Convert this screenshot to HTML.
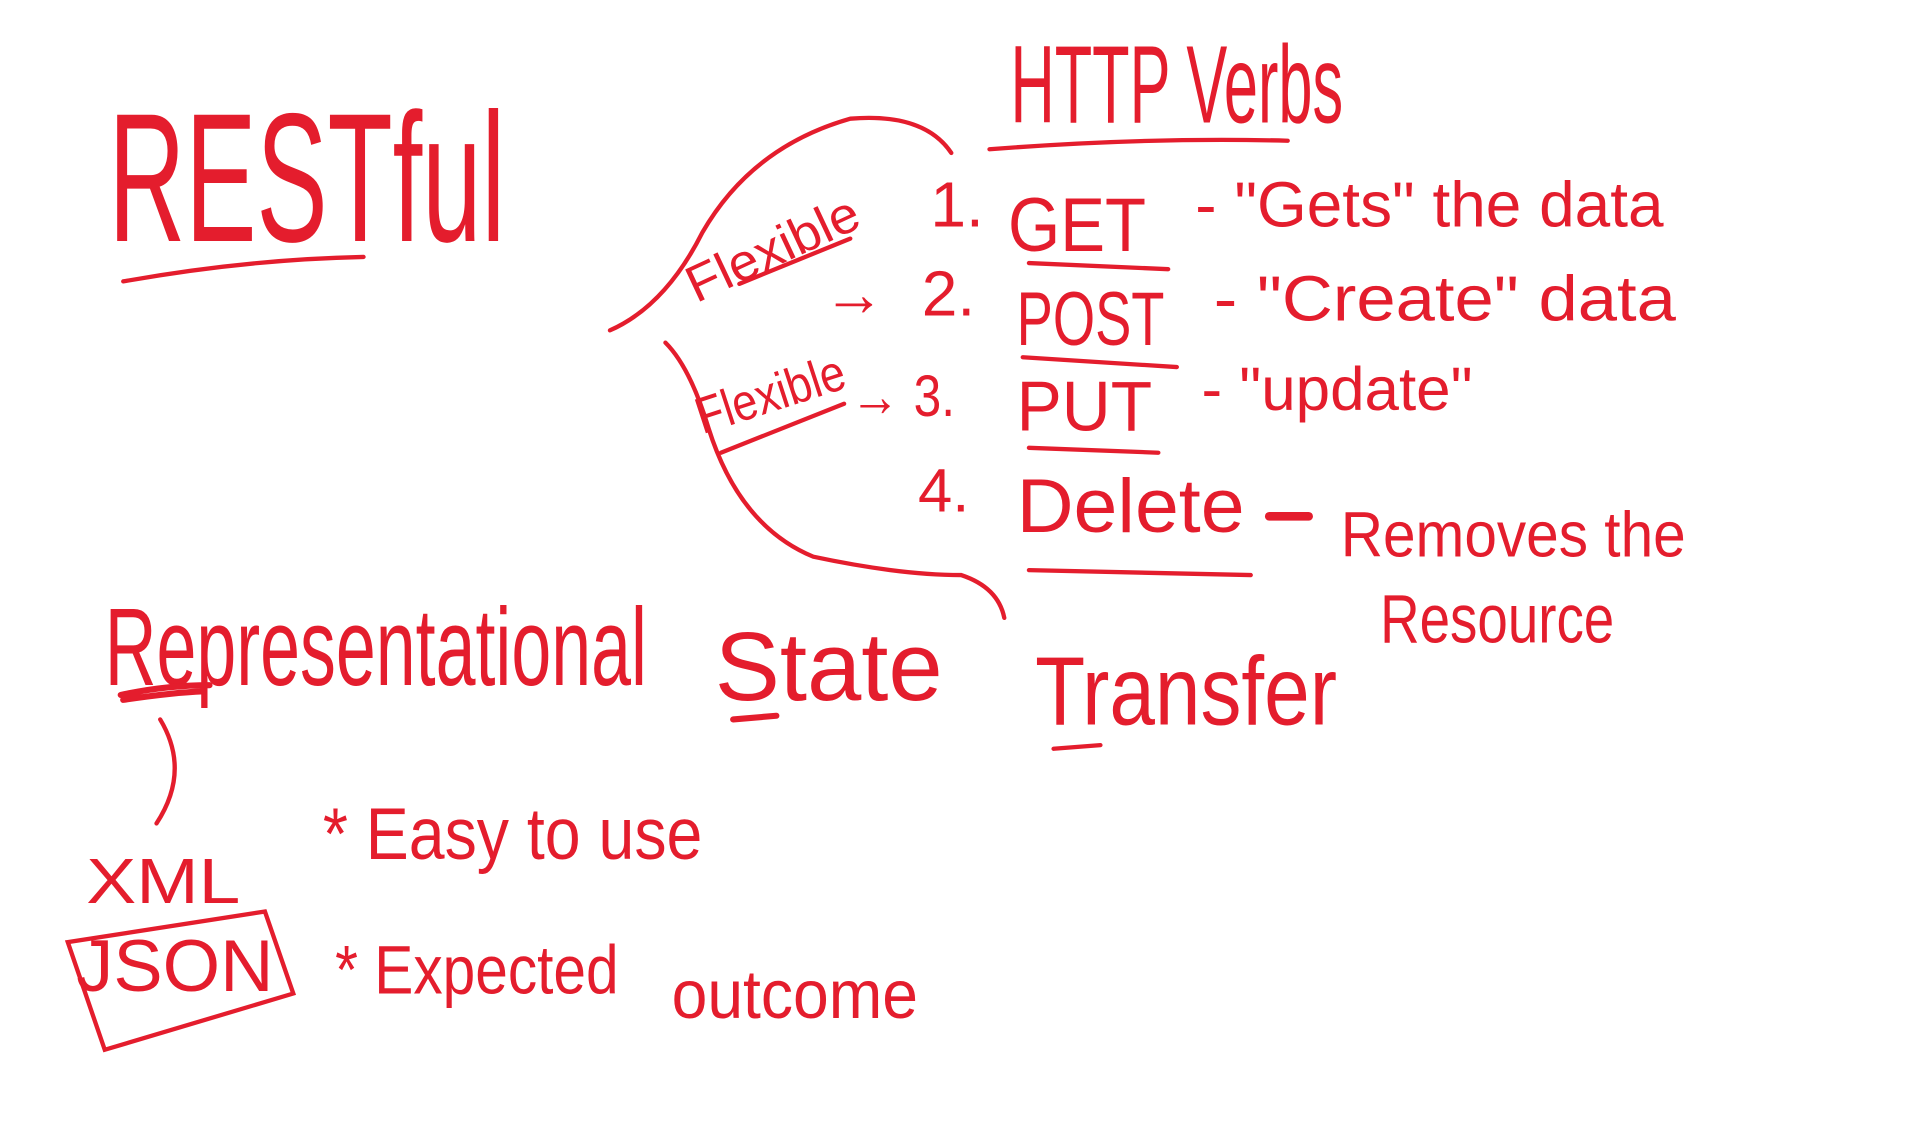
<!DOCTYPE html>
<html><head><meta charset="utf-8"><style>
html,body{margin:0;padding:0;background:#fff;width:1910px;height:1144px;overflow:hidden}
svg{display:block}
text{font-family:"DejaVu Sans ExtraLight","Liberation Sans",sans-serif;font-weight:200;fill:#e41d2d;stroke:none}
path,line{stroke:#e41d2d;fill:none;stroke-width:3.5;stroke-linecap:round}
</style></head><body>
<svg width="1910" height="1144" viewBox="0 0 1550 935" preserveAspectRatio="none">
<text x="88" y="197" font-size="150" textLength="322" lengthAdjust="spacingAndGlyphs">RESTful</text>
<path d="M100 230 Q200 212 295 210"/>
<text x="820" y="100" font-size="90" textLength="270" lengthAdjust="spacingAndGlyphs">HTTP Verbs</text>
<path d="M803 122 Q930 112 1045 115"/>

<text x="755" y="185" font-size="52">1.</text>
<text x="818" y="205" font-size="62" textLength="112" lengthAdjust="spacingAndGlyphs">GET</text>
<path d="M835 215 L948 220"/>
<text x="970" y="185" font-size="52" textLength="380" lengthAdjust="spacingAndGlyphs">- "Gets" the data</text>

<text x="668" y="258" font-size="52" textLength="50" lengthAdjust="spacingAndGlyphs">→</text>
<text x="748" y="258" font-size="52">2.</text>
<text x="825" y="282" font-size="62" textLength="120" lengthAdjust="spacingAndGlyphs">POST</text>
<path d="M830 292 L955 300"/>
<text x="985" y="262" font-size="52" textLength="375" lengthAdjust="spacingAndGlyphs">- "Create" data</text>

<text transform="translate(565,248) rotate(-25)" font-size="42" textLength="150" lengthAdjust="spacingAndGlyphs">Flexible</text>
<path d="M600 232 L690 195"/>
<text transform="translate(570,355) rotate(-18)" font-size="42" textLength="125" lengthAdjust="spacingAndGlyphs">Flexible</text>
<path d="M585 370 L685 330"/>
<text x="690" y="340" font-size="48" textLength="85" lengthAdjust="spacingAndGlyphs">→ 3.</text>

<text x="825" y="352" font-size="58" textLength="110" lengthAdjust="spacingAndGlyphs">PUT</text>
<path d="M835 366 L940 370"/>
<text x="975" y="335" font-size="50" textLength="220" lengthAdjust="spacingAndGlyphs">- "update"</text>

<text x="745" y="418" font-size="50">4.</text>
<text x="825" y="435" font-size="62" textLength="185" lengthAdjust="spacingAndGlyphs">Delete</text>
<path d="M835 466 L1015 470"/>
<path d="M1030 422 L1062 422" style="stroke-width:7"/>
<text x="1088" y="455" font-size="52" textLength="280" lengthAdjust="spacingAndGlyphs">Removes the</text>
<text x="1120" y="525" font-size="56" textLength="190" lengthAdjust="spacingAndGlyphs">Resource</text>

<path d="M495 270 Q540 250 570 190 Q610 120 690 97 Q750 92 772 125"/>
<path d="M540 280 Q560 300 575 350 Q600 430 660 455 Q730 470 780 470 Q810 480 815 505"/>

<text x="85" y="560" font-size="90" textLength="440" lengthAdjust="spacingAndGlyphs">Representational</text>
<path d="M98 568 Q135 560 170 560 M100 572 Q140 566 165 565" style="stroke-width:5"/>
<text x="580" y="572" font-size="80" textLength="185" lengthAdjust="spacingAndGlyphs">State</text>
<path d="M595 588 L630 585" style="stroke-width:5"/>
<text x="840" y="592" font-size="80" textLength="245" lengthAdjust="spacingAndGlyphs">Transfer</text>
<path d="M855 612 L893 609"/>

<path d="M130 588 Q155 630 127 673"/>
<text x="70" y="738" font-size="52" textLength="125" lengthAdjust="spacingAndGlyphs">XML</text>
<text x="62" y="810" font-size="60" textLength="160" lengthAdjust="spacingAndGlyphs">JSON</text>
<path d="M55 770 L215 745 L238 812 L85 858 Z"/>
<text x="262" y="702" font-size="60" textLength="308" lengthAdjust="spacingAndGlyphs">* Easy to use</text>
<text x="272" y="812" font-size="56" textLength="230" lengthAdjust="spacingAndGlyphs">* Expected</text>
<text x="545" y="832" font-size="56" textLength="200" lengthAdjust="spacingAndGlyphs">outcome</text>
</svg>
</body></html>
